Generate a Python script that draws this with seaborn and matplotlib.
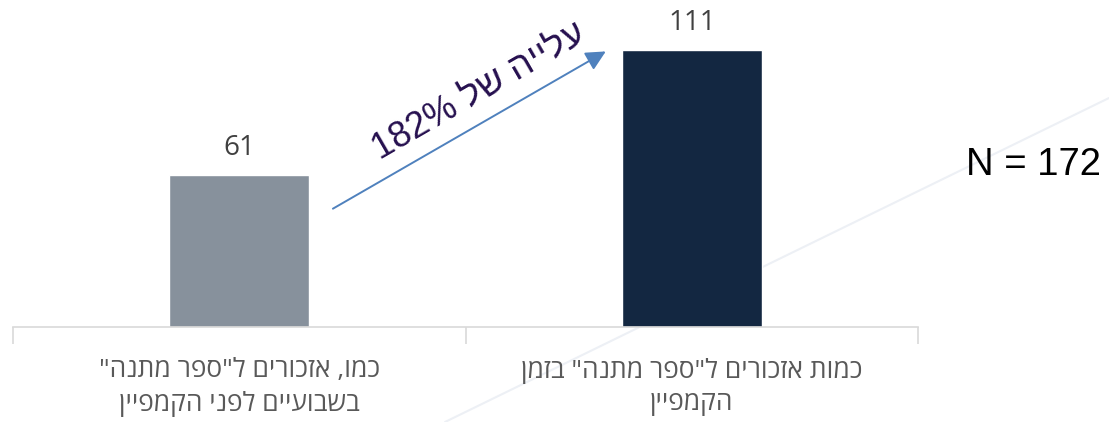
import re
import matplotlib
matplotlib.use("Agg")
import matplotlib.pyplot as plt
from matplotlib.lines import Line2D
import seaborn as sns
import pandas as pd

# --- data -------------------------------------------------------------
categories = [
    'כמו, אזכורים ל"ספר מתנה"\nבשבועיים לפני הקמפיין',
    'כמות אזכורים ל"ספר מתנה" בזמן\nהקמפיין',
]
values = [61, 111]
bar_colors = ["#87919C", "#132741"]
growth_label = "עלייה של 182%"
sample_label = "N = 172"


def visual(text):
    """Lay out right-to-left text for a renderer that draws glyphs left to right."""
    lines = []
    for line in text.split("\n"):
        rev = line[::-1]
        # digit runs (with % etc.) keep their own left-to-right order
        rev = re.sub(r"[0-9%.]+", lambda m: m.group(0)[::-1], rev)
        lines.append(rev)
    return "\n".join(lines)


df = pd.DataFrame({"cat": [visual(c) for c in categories], "val": values})

sns.set_theme(style="white")
plt.rcParams["font.family"] = ["Liberation Sans", "DejaVu Sans"]

W, H = 1109, 422
fig = plt.figure(figsize=(W / 100, H / 100), dpi=100)
fig.patch.set_facecolor("white")

# faint decorative sweep behind the chart
fig.add_artist(Line2D([445 / W, 1109 / W],
                      [1 - 422 / H, 1 - 98 / H],
                      color="#EDF0F5", lw=1.5, zorder=0))

ax = fig.add_axes([13 / W, 1 - 327 / H, 905 / W, 327 / H])
ax.set_facecolor("none")

sns.barplot(data=df, x="cat", y="val", hue="cat", palette=bar_colors,
            width=0.31, legend=False, ax=ax, saturation=1)

ax.set_xlim(-0.5, 1.5)
ax.set_ylim(0, 131)
ax.set_xlabel("")
ax.set_ylabel("")
ax.set_yticks([])

for s in ["top", "left", "right"]:
    ax.spines[s].set_visible(False)
ax.spines["bottom"].set_color("#D9D9D9")
ax.spines["bottom"].set_linewidth(1.2)

# category separators below the axis
ax.set_xticks([-0.5, 0.5, 1.5], minor=True)
ax.tick_params(axis="x", which="minor", length=12, width=1.2,
               color="#D9D9D9", direction="out", bottom=True)
ax.tick_params(axis="x", which="major", length=0, pad=22)
for lbl in ax.get_xticklabels():
    lbl.set_fontfamily(["Open Sans", "Liberation Sans"])
    lbl.set_fontsize(19)
    lbl.set_color("#595959")
    lbl.set_linespacing(1.4)

# value labels above bars
for cont in ax.containers:
    ax.bar_label(cont, padding=9, fontsize=20, color="#404040",
                 fontfamily=["Open Sans", "DejaVu Sans"])

# growth arrow between the bars
ax.annotate("", xy=(0.81, 110.4), xytext=(0.207, 47.4),
            arrowprops=dict(arrowstyle="-|>,head_length=1.0,head_width=0.5",
                            color="#4F81BD", lw=1.4, shrinkA=0, shrinkB=0))
ax.text(0.53, 94.5, visual(growth_label), rotation=30, rotation_mode="anchor",
        ha="center", va="center", fontsize=26, color="#26104F")

fig.text(966 / W, 1 - 165 / H, sample_label, ha="left", va="center",
         fontsize=27.5, color="black")

fig.savefig("out.png", dpi=100, facecolor="white")
